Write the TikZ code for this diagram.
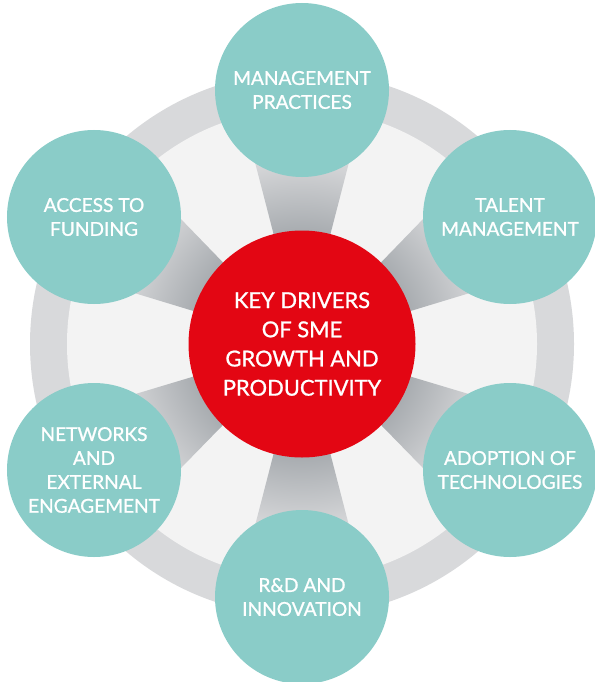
\documentclass[tikz,border=0pt]{standalone}
\usepackage{fontspec}
\setmainfont{Lato}
\newfontfamily\medfont{Lato}[FakeBold=1]
\usetikzlibrary{calc}
\definecolor{ringgray}{RGB}{216,217,219}
\definecolor{innergray}{RGB}{243,243,243}
\definecolor{tealc}{RGB}{138,204,200}
\definecolor{redc}{RGB}{227,6,19}
\definecolor{spkA}{RGB}{168,172,176}
\definecolor{spkB}{RGB}{214,215,217}
\pgfdeclareradialshading{spokeshade}{\pgfpoint{0bp}{0bp}}{color(0bp)=(spkA); color(112bp)=(spkA); color(185bp)=(spkB); color(280bp)=(spkB)}
\begin{document}
\begin{tikzpicture}[x=1bp,y=-1bp,
  sat/.style={circle, fill=tealc, minimum size=174bp, inner sep=0pt, text=white, align=center, font=\medfont\fontsize{19.2}{24}\selectfont},
  hub/.style={circle, fill=redc, minimum size=227bp, inner sep=0pt, text=white, align=center, font=\medfont\fontsize{22}{29.3}\selectfont}]
\useasboundingbox (0,0) rectangle (595,682);
\coordinate (c) at (302,344);
\coordinate (pm) at (302,90);
\coordinate (pt) at (510,217);
\coordinate (pa) at (510,470);
\coordinate (pr) at (302,597);
\coordinate (pn) at (94,470);
\coordinate (pf) at (94,217);
\fill[ringgray] (c) circle[radius=272];
\fill[innergray] (c) circle[radius=235];
\begin{scope}
\clip (c) -- ($(c)!1!14.5:(pm)$) -- ($(c)!1!-14.5:(pm)$) -- cycle
      (c) -- ($(c)!1!14.5:(pt)$) -- ($(c)!1!-14.5:(pt)$) -- cycle
      (c) -- ($(c)!1!14.5:(pa)$) -- ($(c)!1!-14.5:(pa)$) -- cycle
      (c) -- ($(c)!1!14.5:(pr)$) -- ($(c)!1!-14.5:(pr)$) -- cycle
      (c) -- ($(c)!1!14.5:(pn)$) -- ($(c)!1!-14.5:(pn)$) -- cycle
      (c) -- ($(c)!1!14.5:(pf)$) -- ($(c)!1!-14.5:(pf)$) -- cycle;
\node[inner sep=0pt, outer sep=0pt] (shade) at (c) {\pgfuseshading{spokeshade}};
\end{scope}
\node[hub] (hub) at (c) {KEY DRIVERS\\OF SME\\GROWTH AND\\PRODUCTIVITY};
\node[sat] (m) at (pm) {MANAGEMENT\\PRACTICES};
\node[sat] (t) at (pt) {TALENT\\MANAGEMENT};
\node[sat] (a) at (pa) {ADOPTION OF\\TECHNOLOGIES};
\node[sat] (r) at (pr) {R\&D AND\\INNOVATION};
\node[sat] (n) at (pn) {NETWORKS\\AND\\EXTERNAL\\ENGAGEMENT};
\node[sat] (f) at (pf) {ACCESS TO\\FUNDING};
\end{tikzpicture}
\end{document}
